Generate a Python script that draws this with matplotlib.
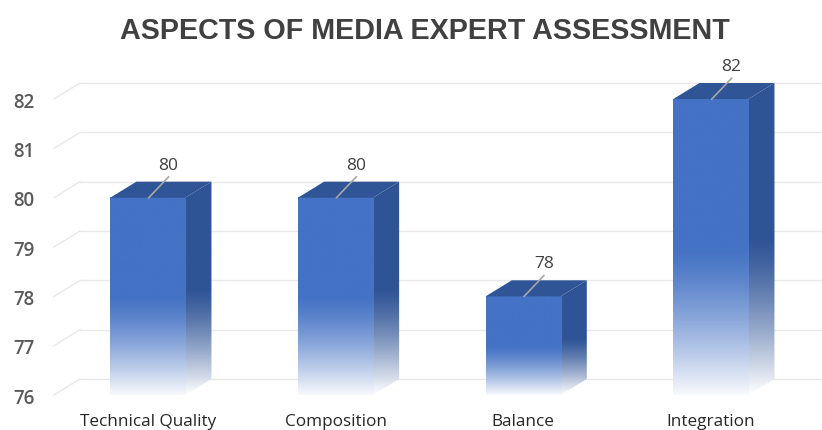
import numpy as np
import matplotlib
matplotlib.use("Agg")
import matplotlib.pyplot as plt
from matplotlib.patches import Polygon
from matplotlib.colors import to_rgb

categories = ["Technical Quality", "Composition", "Balance", "Integration"]
scores = [80, 80, 78, 82]
yticks = [76, 77, 78, 79, 80, 81, 82]

front_col = to_rgb("#4472C4")
side_col = to_rgb("#2F5496")
top_col = to_rgb("#2F5597")
fade_col = np.array([1.0, 1.0, 1.0])

BASE = 76
HALF_W = 0.2
DX, DY = 0.139, 0.325   # depth offset of the fake 3d boxes

fig = plt.figure(figsize=(8.22, 4.31), dpi=100)
xmin, xmax = -0.5, 3.6
ymin, ymax = 76, 82.7
ax = fig.add_axes([54 / 822, 35 / 431, 4.1 * 187.67 / 822, 6.7 * 49.33 / 431])
ax.set_xlim(xmin, xmax)
ax.set_ylim(ymin, ymax)
for s in ax.spines.values():
    s.set_visible(False)
ax.set_xticks([])
ax.set_yticks(yticks)
ax.set_yticklabels([str(t) for t in yticks], fontsize=13.5, color="#595959",
                   family="Open Sans", fontweight="semibold")
ax.tick_params(axis="y", length=0, pad=14)

# floor/back-wall grid: short diagonal then a horizontal line on the back wall
for t in yticks:
    ax.plot([xmin, xmin + DX], [t, t + DY], color="#e8e8e8", lw=1, zorder=0,
            clip_on=False)
    ax.plot([xmin + DX, xmax + 0.2], [t + DY, t + DY], color="#e8e8e8", lw=1,
            zorder=0, clip_on=False)


def gradient(col, n=200, solid=0.5, depth=0.96):
    # top part solid, bottom part fades towards white
    f = np.linspace(0, 1, n)  # 0 top, 1 bottom
    w = np.clip((f - solid) / (1 - solid), 0, 1) ** 1.3 * depth
    rgb = np.array(col)[None, :] * (1 - w[:, None]) + fade_col[None, :] * w[:, None]
    return rgb[:, None, :]


for i, v in enumerate(scores):
    x0, x1 = i - HALF_W, i + HALF_W
    # front face
    ax.imshow(gradient(front_col), extent=[x0, x1, BASE, v], aspect="auto",
              zorder=3, interpolation="bilinear")
    # side face
    side = Polygon([(x1, BASE), (x1, v), (x1 + DX, v + DY), (x1 + DX, BASE + DY)],
                   closed=True, facecolor="none", edgecolor="none")
    ax.add_patch(side)
    im = ax.imshow(gradient(side_col, solid=0.5, depth=1.0),
                   extent=[x1, x1 + DX, BASE, v + DY],
                   aspect="auto", zorder=2, interpolation="bilinear")
    im.set_clip_path(side)
    # top face
    ax.add_patch(Polygon([(x0, v), (x1, v), (x1 + DX, v + DY), (x0 + DX, v + DY)],
                         closed=True, facecolor=top_col, edgecolor="none", zorder=4))
    # value label with leader line
    ax.plot([i + 0.005, i + 0.11], [v, v + 0.42], color="#a6a6a6", lw=1.2,
            zorder=5)
    ax.text(i + 0.11, v + 0.67, str(v), ha="center", va="center",
            fontsize=12.5, color="#404040", family="Open Sans", zorder=6)
    ax.text(i, 75.47, categories[i], ha="center", va="center", fontsize=12.3,
            color="#262626", family="Open Sans", clip_on=False)

fig.text(425 / 822, 1 - 31 / 431, "ASPECTS OF MEDIA EXPERT ASSESSMENT",
         ha="center", va="center", fontsize=20.7, fontweight="bold",
         color="#404040", family="Liberation Sans")

fig.savefig("out.png", dpi=100)
